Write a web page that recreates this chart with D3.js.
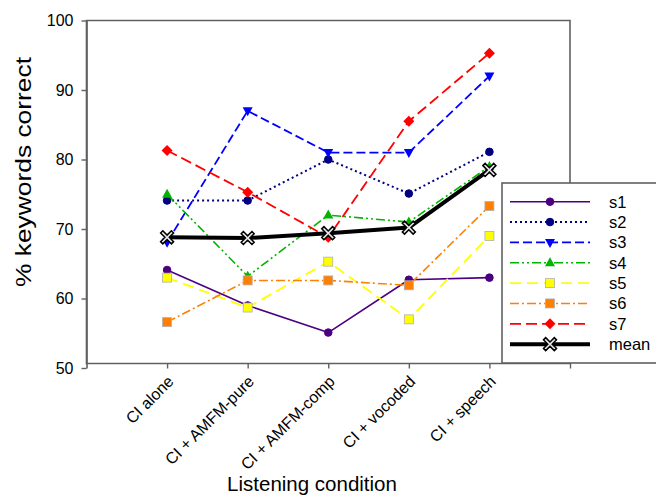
<!DOCTYPE html>
<html><head><meta charset="utf-8">
<script src="https://cdn.jsdelivr.net/npm/d3@7"></script>
<style>body{margin:0;background:#fff}svg{display:block;font-family:Arial,"Liberation Sans",sans-serif}</style>
</head><body>
<svg id="c" width="656" height="496"></svg>
<script>
const categories = ["CI alone","CI + AMFM-pure","CI + AMFM-comp","CI + vocoded","CI + speech"];
const seriesNames = ["s1","s2","s3","s4","s5","s6","s7","mean"];
const s1 = [64.1, 59.0, 55.1, 62.7, 63.0];
const s2 = [74.1, 74.1, 80.0, 75.1, 81.1];
const s3 = [68.1, 87.0, 81.0, 81.0, 92.0];
const s4 = [75.0, 63.2, 72.0, 71.0, 79.0];
const s5 = [63.0, 58.7, 65.3, 57.0, 69.0];
const s6 = [56.6, 62.6, 62.6, 61.9, 73.3];
const s7 = [81.3, 75.3, 68.8, 85.5, 95.3];
const mean = [68.8, 68.7, 69.4, 70.2, 78.5];
const yTicks = [50,60,70,80,90,100];

const seriesData = [s1,s2,s3,s4,s5,s6,s7,mean];
const styles = [
  {color:"#4B0082", dash:null, marker:"circle", w:1.6},
  {color:"#000080", dash:"2,3", marker:"circle", w:2},
  {color:"#0000FF", dash:"9,4", marker:"tridown", w:1.8},
  {color:"#00B400", dash:"9,3,2,3,2,3", marker:"triup", w:1.6},
  {color:"#FFFF00", dash:"11,6", marker:"square", w:1.8},
  {color:"#FF8000", dash:"9,3,2,3", marker:"square", w:1.6},
  {color:"#FF0000", dash:"11,5", marker:"diamond", w:1.8},
  {color:"#000000", dash:null, marker:"x", w:4}
];

const svg = d3.select("#c");
const x = d3.scaleLinear().domain([0, categories.length+1]).range([86.5, 570]);
const y = d3.scaleLinear().domain([50,100]).range([368,20.5]);
const frameBottom = 363.5;

// frame
const g = svg.append("g");
g.append("path").attr("d",`M${x(0)},${y(100)}H${x(6)}V${frameBottom}H${x(0)}Z`)
  .attr("fill","none").attr("stroke","#606060").attr("stroke-width",1.6);

// y axis
const yAxis = d3.axisLeft(y).tickValues(yTicks).tickSize(5).tickSizeOuter(0).tickFormat(d3.format("d"));
const ya = g.append("g").attr("transform",`translate(${x(0)},0)`).call(yAxis);
ya.select(".domain").attr("stroke","#606060").attr("stroke-width",1.6);
ya.selectAll(".tick line").attr("stroke","#606060").attr("stroke-width",1.4);
ya.selectAll(".tick text").attr("font-size",16).attr("fill","#000").attr("x",-13).attr("font-family","Arial, Liberation Sans, sans-serif");

// x axis
const xa = g.append("g").attr("transform",`translate(0,${frameBottom})`)
  .call(d3.axisBottom(x).tickValues([1,2,3,4,5,6]).tickSize(5).tickSizeOuter(0).tickFormat(d=> d<=categories.length ? categories[d-1] : ""));
xa.select(".domain").remove();
xa.selectAll(".tick line").attr("stroke","#606060").attr("stroke-width",1.4);
xa.selectAll(".tick text").attr("font-size",16).attr("fill","#000")
  .attr("font-family","Arial, Liberation Sans, sans-serif")
  .attr("text-anchor","end").attr("dy",0).attr("y",0)
  .attr("transform","translate(7,19) rotate(-45)");

// titles
svg.append("text").attr("x",312).attr("y",491).attr("text-anchor","middle").attr("font-size",20.5).text("Listening condition");
svg.append("text").attr("transform","translate(31,172) rotate(-90)").attr("text-anchor","middle").attr("font-size",21.5)
  .attr("textLength",230).attr("lengthAdjust","spacingAndGlyphs").text("% keywords correct");

function marker(sel, type, color, cx, cy){
  if(type==="circle"){
    sel.append("circle").attr("cx",cx).attr("cy",cy).attr("r",3.8).attr("fill",color).attr("stroke",color);
  } else if(type==="square"){
    sel.append("rect").attr("x",cx-4.5).attr("y",cy-4.5).attr("width",9).attr("height",9).attr("fill",color).attr("stroke","#b0b0b0").attr("stroke-width",0.8);
  } else if(type==="triup"){
    sel.append("path").attr("d",`M${cx},${cy-5.5}L${cx+5},${cy+3.5}L${cx-5},${cy+3.5}Z`).attr("fill",color);
  } else if(type==="tridown"){
    sel.append("path").attr("d",`M${cx},${cy+5.5}L${cx+5},${cy-3.5}L${cx-5},${cy-3.5}Z`).attr("fill",color);
  } else if(type==="diamond"){
    sel.append("path").attr("d",`M${cx},${cy-5.5}L${cx+5.5},${cy}L${cx},${cy+5.5}L${cx-5.5},${cy}Z`).attr("fill",color);
  } else if(type==="x"){
    const a=6.5, t=2.2;
    const p=[[-a,-a+t],[-a+t,-a],[0,-t],[a-t,-a],[a,-a+t],[t,0],[a,a-t],[a-t,a],[0,t],[-a+t,a],[-a,a-t],[-t,0]];
    sel.append("path").attr("d","M"+p.map(q=>(cx+q[0])+","+(cy+q[1])).join("L")+"Z")
      .attr("fill","#e8e8e8").attr("stroke","#000").attr("stroke-width",1.5);
  }
}

const line = d3.line().x((d,i)=>x(i+1)).y(d=>y(d));
const plot = svg.append("g");
seriesData.forEach((data,k)=>{
  const st = styles[k];
  const sg = plot.append("g");
  sg.append("path").datum(data).attr("d",line).attr("fill","none")
    .attr("stroke",st.color).attr("stroke-width",st.w)
    .attr("stroke-dasharray",st.dash).attr("stroke-linejoin","round");
  data.forEach((v,i)=>marker(sg, st.marker, st.color, x(i+1), y(v)));
});

// legend
const lg = svg.append("g");
lg.append("rect").attr("x",502).attr("y",183).attr("width",170).attr("height",180)
  .attr("fill","#fff").attr("stroke","#606060").attr("stroke-width",1.6);
seriesNames.forEach((name,k)=>{
  const st = styles[k];
  const ly = 201.7 + k*20.35;
  lg.append("line").attr("x1",510).attr("x2",590).attr("y1",ly).attr("y2",ly)
    .attr("stroke",st.color).attr("stroke-width",st.w).attr("stroke-dasharray",st.dash);
  marker(lg, st.marker, st.color, 550, ly);
  lg.append("text").attr("x",609).attr("y",ly+6).attr("font-size",16.5).text(name);
});
</script>
</body></html>
